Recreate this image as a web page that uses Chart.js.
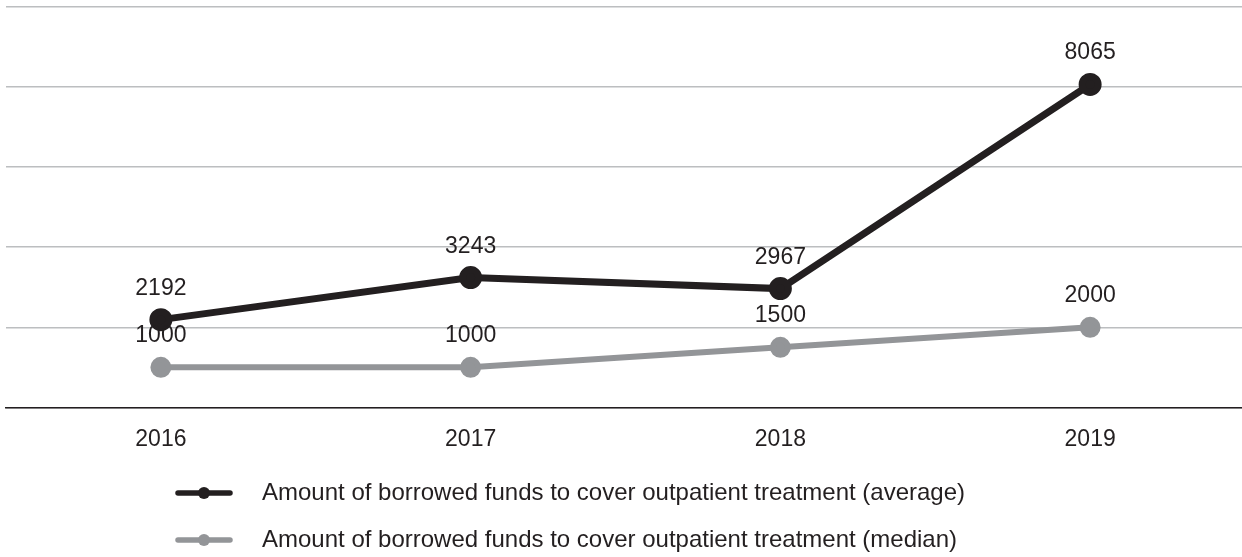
<!DOCTYPE html>
<html>
<head>
<meta charset="utf-8">
<script src="https://cdn.jsdelivr.net/npm/chart.js@4/dist/chart.umd.min.js"></script>
<style>
  html, body { margin: 0; padding: 0; background: #fff; overflow: hidden; }
  canvas { display: block; }
</style>
</head>
<body>
<canvas id="borrowed" width="1245" height="557"></canvas>
<script>
var years = ['2016', '2017', '2018', '2019'];
var averageFunds = [2192, 3243, 2967, 8065];
var medianFunds = [1000, 1000, 1500, 2000];
var yTicks = [0, 2000, 4000, 6000, 8000, 10000];

var ink = '#231f20';
var grey = '#939598';
var fontFamily = 'Arial, "Liberation Sans", sans-serif';

// value labels above every point
var valueLabels = {
    id: 'valueLabels',
    afterDatasetsDraw(chart) {
        var ctx = chart.ctx;
        ctx.save();
        ctx.font = '23px ' + fontFamily;
        ctx.fillStyle = ink;
        ctx.textAlign = 'center';
        ctx.textBaseline = 'alphabetic';
        chart.data.datasets.forEach(function (ds, i) {
            chart.getDatasetMeta(i).data.forEach(function (pt, j) {
                ctx.fillText(String(ds.data[j]), pt.x, pt.y - 25);
            });
        });
        ctx.restore();
    }
};

// legend rows under the axis: line marker with a dot, then the label
var lineLegend = {
    id: 'lineLegend',
    afterDraw(chart) {
        var ctx = chart.ctx;
        var left = 178, rowY = 493, rowGap = 47;
        ctx.save();
        chart.data.datasets.forEach(function (ds, i) {
            var y = rowY + i * rowGap;
            ctx.strokeStyle = ds.borderColor;
            ctx.fillStyle = ds.borderColor;
            ctx.lineWidth = 5.5;
            ctx.lineCap = 'round';
            ctx.beginPath();
            ctx.moveTo(left, y);
            ctx.lineTo(left + 52, y);
            ctx.stroke();
            ctx.beginPath();
            ctx.arc(left + 26, y, 6, 0, Math.PI * 2);
            ctx.fill();
            ctx.fillStyle = ink;
            ctx.font = '24px ' + fontFamily;
            ctx.textAlign = 'left';
            ctx.textBaseline = 'middle';
            ctx.fillText(ds.label, 262, y);
        });
        ctx.restore();
    }
};

new Chart(document.getElementById('borrowed'), {
    type: 'line',
    data: {
        labels: years,
        datasets: [{
            label: 'Amount of borrowed funds to cover outpatient treatment (average)',
            data: averageFunds,
            borderColor: ink,
            backgroundColor: ink,
            borderWidth: 7,
            pointRadius: 8,
            pointHoverRadius: 8,
            tension: 0
        }, {
            label: 'Amount of borrowed funds to cover outpatient treatment (median)',
            data: medianFunds,
            borderColor: grey,
            backgroundColor: grey,
            borderWidth: 6,
            pointRadius: 7.5,
            pointHoverRadius: 7.5,
            tension: 0
        }]
    },
    options: {
        responsive: false,
        animation: false,
        layout: { autoPadding: false, padding: { left: 6, right: 0, top: 7, bottom: 86 } },
        plugins: {
            legend: { display: false },
            tooltip: { enabled: false }
        },
        scales: {
            x: {
                offset: true,
                grid: { display: false, drawTicks: false },
                border: { display: true, color: ink, width: 1.5 },
                ticks: {
                    color: ink,
                    font: { size: 23, family: fontFamily },
                    padding: 18
                }
            },
            y: {
                min: 0,
                max: 10000,
                afterBuildTicks(scale) {
                    scale.ticks = yTicks.map(function (v) { return { value: v }; });
                },
                grid: { color: '#bcbec0', lineWidth: 1.5, drawTicks: false },
                border: { display: false },
                ticks: { display: false }
            }
        }
    },
    plugins: [valueLabels, lineLegend]
});
</script>
</body>
</html>
